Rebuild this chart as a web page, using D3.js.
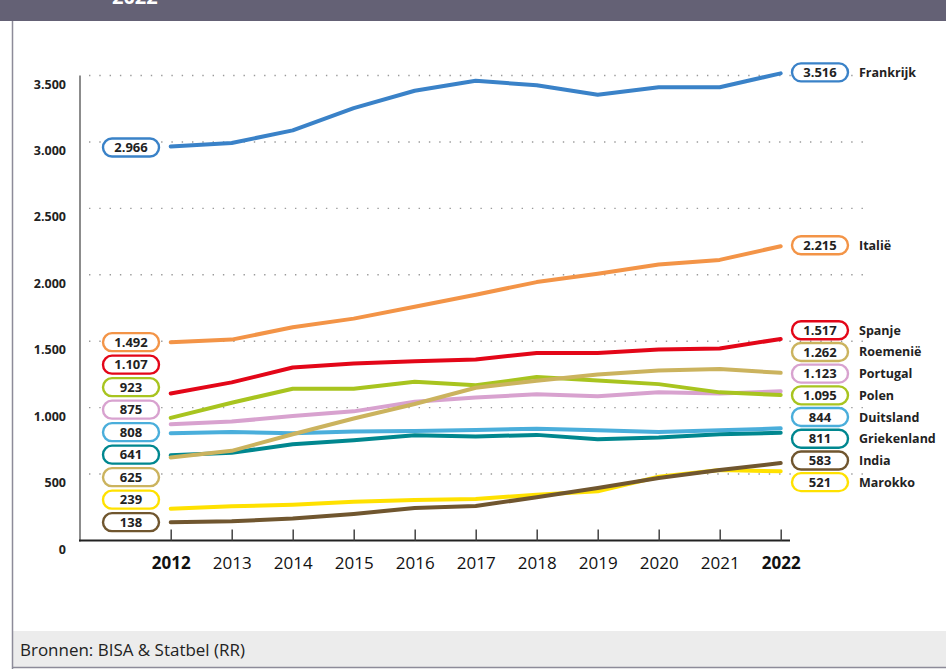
<!DOCTYPE html>
<html><head><meta charset="utf-8">
<script src="https://cdn.jsdelivr.net/npm/d3@7"></script>
<style>
html,body{margin:0;padding:0;background:#fff;}
svg{display:block;font-family:"Open Sans","Noto Sans",sans-serif;}
</style></head>
<body><svg id="c" width="946" height="669"></svg>
<script>
const years = [2012,2013,2014,2015,2016,2017,2018,2019,2020,2021,2022];
const yTicks = [0,500,1000,1500,2000,2500,3000,3500];
const countries = ["Frankrijk","Italië","Spanje","Roemenië","Portugal","Polen","Duitsland","Griekenland","India","Marokko"];
const colors = ["#3a82c8","#f39447","#e30618","#cbb35e","#d8a2cf","#a8c41f","#4aaedb","#00878f","#70562f","#ffe100"];
const frankrijk   = [2966,2992,3087,3255,3385,3460,3427,3355,3412,3412,3516];
const italie      = [1492,1512,1605,1670,1760,1850,1945,2008,2078,2112,2215];
const spanje      = [1107,1190,1302,1332,1350,1362,1412,1412,1437,1445,1517];
const roemenie    = [625,675,800,918,1027,1150,1202,1250,1280,1290,1262];
const portugal    = [875,895,937,972,1045,1077,1100,1085,1115,1107,1123];
const polen       = [923,1037,1142,1142,1195,1168,1230,1205,1177,1115,1095];
const duitsland   = [808,817,807,820,825,831,842,830,817,830,844];
const griekenland = [641,660,725,755,792,783,795,762,775,800,811];
const india       = [138,145,165,200,245,260,325,395,470,530,583];
const marokko     = [239,257,270,292,305,312,345,370,480,530,521];
const seriesValues = [frankrijk,italie,spanje,roemenie,portugal,polen,duitsland,griekenland,india,marokko];
const headerText = "2022";
const sourceText = "Bronnen: BISA & Statbel (RR)";

const fmt = v => d3.format(",")(v).replace(/,/g,".");
const svg = d3.select("#c");
const W = 946, H = 669;

// frame
svg.append("rect").attr("x",0).attr("y",0).attr("width",W).attr("height",21).attr("fill","#646175");
svg.append("text").attr("x",112).attr("y",4).attr("fill","#fff").attr("font-weight","bold")
  .attr("font-size",20).text(headerText);
svg.append("rect").attr("x",12).attr("y",631).attr("width",W-12).attr("height",36).attr("fill","#ececec");
svg.append("line").attr("x1",12.5).attr("x2",12.5).attr("y1",21).attr("y2",H).attr("stroke","#8d8b99").attr("stroke-width",1.5);
svg.append("line").attr("x1",12).attr("x2",W).attr("y1",667.5).attr("y2",667.5).attr("stroke","#8d8b99").attr("stroke-width",1.5);
svg.append("text").attr("x",20).attr("y",656).attr("font-size",16.5).attr("fill","#222")
  .attr("textLength",225).attr("lengthAdjust","spacingAndGlyphs")
  .style("font-family","'Open Sans',sans-serif").text(sourceText);

const x = d3.scaleLinear().domain([2012,2022]).range([170.7,780.7]);
const y = d3.scaleLinear().domain([0,3500]).range([540.5,75.5]);

// gridlines
svg.append("g").selectAll("line").data(yTicks.filter(d=>d>0)).join("line")
  .attr("x1",89).attr("x2",870).attr("y1",d=>y(d)).attr("y2",d=>y(d))
  .attr("stroke","#9a9a9a").attr("stroke-width",1.4).attr("stroke-dasharray","1.4 8.9");

// y labels
svg.append("g").selectAll("text").data(yTicks).join("text")
  .attr("x",66).attr("y",d=>y(d)+13).attr("text-anchor","end")
  .attr("font-size",12.5).attr("font-weight","bold").attr("fill","#222").text(fmt);

// axes
svg.append("line").attr("x1",80).attr("x2",80).attr("y1",y(3500)).attr("y2",y(0)+1).attr("stroke","#666").attr("stroke-width",1.5);
svg.append("line").attr("x1",79).attr("x2",790).attr("y1",y(0)).attr("y2",y(0)).attr("stroke","#222").attr("stroke-width",1.8);
const xAxis = d3.axisBottom(x).tickValues(years).tickFormat(d3.format("d")).tickSize(-11).tickPadding(0);
const gx = svg.append("g").attr("transform",`translate(0,${y(0)})`).call(xAxis);
gx.select(".domain").remove();
gx.selectAll(".tick line").attr("stroke","#444").attr("stroke-width",1.5);
gx.selectAll(".tick text").attr("y",28).attr("dy",0).attr("font-size",17).attr("fill","#111")
  .style("font-family","'Open Sans',sans-serif")
  .attr("font-weight",d=>(d===2012||d===2022)?"bold":"normal");

// lines
const line = d3.line().x((d,i)=>x(years[i])).y(d=>y(d));
const order = [9,8,7,6,4,5,3,2,1,0];
svg.append("g").selectAll("path").data(order).join("path")
  .attr("d",i=>line(seriesValues[i])).attr("fill","none")
  .attr("stroke",i=>colors[i]).attr("stroke-width",4).attr("stroke-linejoin","round").attr("stroke-linecap","round");

// label layout
function stackFromBottom(items, gap){ // contiguous stack anchored on lowest value
  items.sort((a,b)=>b.t-a.t);
  const base = items[0].t;
  items.forEach((it,k)=>{ it.y = base - k*gap; });
  return items;
}
function stackCentered(items, gap, shift){
  items.sort((a,b)=>a.t-b.t);
  const mean = d3.mean(items,d=>d.t);
  const n = items.length;
  items.forEach((it,k)=>{ it.y = mean + (k-(n-1)/2)*gap + shift; });
  return items;
}
const leftItems = seriesValues.map((s,i)=>({i, v:s[0], t:y(s[0])}));
const rightItems = seriesValues.map((s,i)=>({i, v:s[s.length-1], t:y(s[s.length-1])}));
const leftTop = leftItems.filter(d=>d.v>2500), leftRest = leftItems.filter(d=>d.v<=2500);
leftTop.forEach(d=>d.y=d.t+1);
stackFromBottom(leftRest, 22.5);
const rightTop = rightItems.filter(d=>d.v>2000), rightRest = rightItems.filter(d=>d.v<=2000);
rightTop.forEach(d=>d.y=d.t-1);
stackCentered(rightRest, 21.7, -5.5);

function pill(g, it, cx){
  g.append("rect").attr("x",cx-28).attr("y",it.y-9).attr("width",56).attr("height",18)
    .attr("rx",9).attr("ry",9).attr("fill","#fff").attr("stroke",colors[it.i]).attr("stroke-width",2.4);
  g.append("text").attr("x",cx).attr("y",it.y+4.6).attr("text-anchor","middle")
    .attr("font-size",13).attr("font-weight","bold").attr("fill","#222").text(fmt(it.v));
}
const gl = svg.append("g");
leftTop.concat(leftRest).forEach(it=>pill(gl,it,131));
const gr = svg.append("g");
rightTop.concat(rightRest).forEach(it=>{
  pill(gr,it,820);
  gr.append("text").attr("x",859).attr("y",it.y+4.5).attr("font-size",12.5).attr("font-weight","bold")
    .attr("fill","#222").text(countries[it.i]);
});
</script></body></html>
